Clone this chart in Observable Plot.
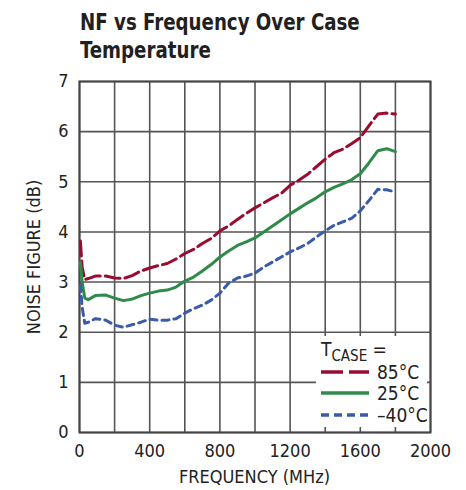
<!DOCTYPE html>
<html>
<head>
<meta charset="utf-8">
<script src="https://cdn.jsdelivr.net/npm/d3@7"></script>
<script src="https://cdn.jsdelivr.net/npm/@observablehq/plot@0.6"></script>
<style>
  html, body { margin: 0; padding: 0; background: #fff; }
  #wrap { position: relative; width: 466px; height: 490px; overflow: hidden;
    font-family: "Liberation Sans Narrow", "DejaVu Sans Condensed", "Liberation Sans", sans-serif; color: #222; }
  #chart { position: absolute; left: 0; top: 0; }
  .title { position: absolute; left: 80px; font-weight: bold; font-size: 23px; line-height: 28px; color: #231f20; white-space: nowrap;
    transform: scaleX(0.88); transform-origin: 0 0; }
  .xlabel { position: absolute; top: 466px; left: 0; width: 509px; text-align: center; font-size: 18px; }
  .ylabel { position: absolute; left: 33px; top: 257px; font-size: 18px; white-space: nowrap;
    transform: translate(-50%, -50%) rotate(-90deg); }
  #legend { position: absolute; left: 316px; top: 336px; width: 111px; height: 91px; background: #fff; font-size: 19px; }
  #legend .row { position: absolute; left: 5px; height: 22px; }
  #legend svg { position: absolute; left: 0; top: 0; }
  #legend .lbl { position: absolute; left: 56px; top: -1px; white-space: nowrap; }
</style>
</head>
<body>
<div id="wrap">
  <div id="chart"></div>
  <div class="title" style="top:8px">NF vs Frequency Over Case</div>
  <div class="title" style="top:36px">Temperature</div>
  <div class="xlabel">FREQUENCY (MHz)</div>
  <div class="ylabel">NOISE FIGURE (dB)</div>
  <div id="legend"></div>
</div>
<script>
// Frequency in MHz
const freq = [5, 15, 30, 50, 90, 150, 200, 250, 300, 350, 400, 450, 500, 550, 600, 650, 700, 750, 800, 850, 900, 950, 1000, 1050, 1100, 1150, 1200, 1250, 1300, 1350, 1400, 1450, 1500, 1550, 1600, 1650, 1700, 1750, 1800];
// Noise figure (dB) at each case temperature
const nf85 = [3.82, 3.3, 3.05, 3.07, 3.12, 3.12, 3.08, 3.07, 3.13, 3.22, 3.28, 3.33, 3.37, 3.46, 3.57, 3.65, 3.77, 3.87, 4.02, 4.12, 4.25, 4.37, 4.48, 4.58, 4.68, 4.77, 4.93, 5.03, 5.15, 5.30, 5.45, 5.58, 5.65, 5.76, 5.88, 6.12, 6.35, 6.37, 6.35];
const nf25 = [3.4, 3.0, 2.68, 2.65, 2.73, 2.74, 2.68, 2.63, 2.66, 2.73, 2.78, 2.82, 2.84, 2.90, 3.02, 3.10, 3.22, 3.35, 3.50, 3.62, 3.73, 3.80, 3.88, 4.00, 4.12, 4.24, 4.36, 4.47, 4.58, 4.68, 4.80, 4.89, 4.96, 5.04, 5.16, 5.38, 5.62, 5.66, 5.60];
const nfm40 = [2.95, 2.5, 2.18, 2.2, 2.27, 2.24, 2.14, 2.10, 2.15, 2.20, 2.26, 2.24, 2.24, 2.27, 2.38, 2.47, 2.54, 2.64, 2.78, 2.98, 3.08, 3.12, 3.18, 3.30, 3.40, 3.50, 3.60, 3.68, 3.77, 3.90, 4.02, 4.13, 4.20, 4.27, 4.42, 4.63, 4.85, 4.84, 4.80];

const seriesNames = ["85°C", "25°C", "–40°C"];
const seriesColors = ["#9a0c2f", "#2f8b49", "#3a5aaa"];
const seriesDash = ["15,5", null, "7,5"];
const seriesValues = [nf85, nf25, nfm40];

const xGridTicks = d3.range(0, 2001, 200);
const xLabelTicks = [0, 400, 800, 1200, 1600, 2000];
const yTicks = [0, 1, 2, 3, 4, 5, 6, 7];

const lineMarks = seriesValues.map((vals, k) =>
  Plot.line(freq, {
    x: d => d,
    y: (d, i) => vals[i],
    stroke: seriesColors[k],
    strokeWidth: 3,
    strokeDasharray: seriesDash[k],
    curve: "linear"
  })
);

const chart = Plot.plot({
  width: 466,
  height: 490,
  marginLeft: 79,
  marginRight: 36,
  marginTop: 81,
  marginBottom: 58,
  style: { fontFamily: '"Liberation Sans Narrow", "DejaVu Sans Condensed", sans-serif', fontSize: "18px", color: "#222", background: "white" },
  x: { domain: [0, 2000] },
  y: { domain: [0, 7] },
  marks: [
    Plot.gridX(xGridTicks, { stroke: "#555", strokeOpacity: 1, strokeWidth: 1.6 }),
    Plot.gridY(yTicks, { stroke: "#555", strokeOpacity: 1, strokeWidth: 1.6 }),
    Plot.frame({ stroke: "#444", strokeWidth: 2 }),
    Plot.axisX(xLabelTicks, { tickSize: 0, tickPadding: 12, label: null, tickFormat: d3.format("d"), fill: "#222" }),
    Plot.axisY(yTicks, { tickSize: 0, tickPadding: 11, label: null, tickFormat: d3.format("d"), fill: "#222" }),
    ...lineMarks
  ]
});
document.getElementById("chart").appendChild(chart);

// Legend
const legend = document.getElementById("legend");
const head = document.createElement("div");
head.style.cssText = "position:absolute;left:5px;top:2px;white-space:nowrap;font-size:19px;";
head.innerHTML = 'T<span style="font-size:15px;position:relative;top:5px;">CASE</span> =';
legend.appendChild(head);
const rowTops = [26, 47, 69];
seriesNames.forEach((name, k) => {
  const row = document.createElement("div");
  row.className = "row";
  row.style.top = rowTops[k] + "px";
  row.style.width = "106px";
  const dash = seriesDash[k] ? `stroke-dasharray="${k === 0 ? '22,6' : '8,5'}"` : "";
  row.innerHTML = `<svg width="50" height="22"><line x1="0" x2="48" y1="10" y2="10" stroke="${seriesColors[k]}" stroke-width="3.5" ${dash}/></svg><span class="lbl">${name}</span>`;
  legend.appendChild(row);
});
</script>
</body>
</html>
